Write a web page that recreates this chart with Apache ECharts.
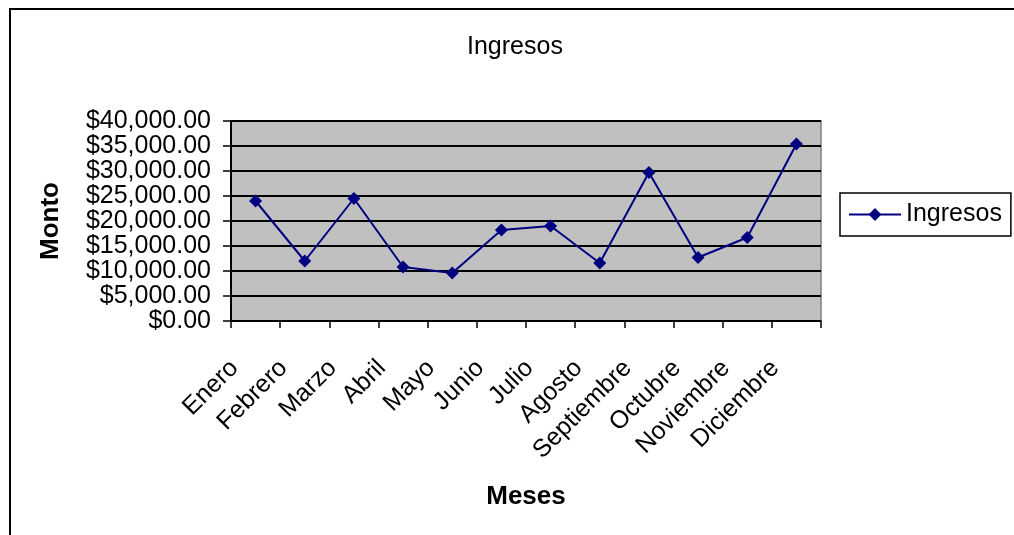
<!DOCTYPE html>
<html>
<head>
<meta charset="utf-8">
<script src="https://cdn.jsdelivr.net/npm/echarts@6/dist/echarts.min.js"></script>
<style>html,body{margin:0;padding:0;background:#fff;}#c{width:1014px;height:535px;}</style>
</head>
<body>
<div id="c"></div>
<script>
const months = ['Enero','Febrero','Marzo','Abril','Mayo','Junio','Julio','Agosto','Septiembre','Octubre','Noviembre','Diciembre'];
const ingresos = [24000, 12000, 24500, 10800, 9600, 18200, 19000, 11600, 29700, 12700, 16700, 35400];
const yMin = 0, yMax = 40000, yStep = 5000;

function money(v){
  const s = v.toFixed(2);
  const parts = s.split('.');
  return '$' + parts[0].replace(/\B(?=(\d{3})+(?!\d))/g, ',') + '.' + parts[1];
}
const FONT = 'Liberation Sans, Arial, sans-serif';
const chart = echarts.init(document.getElementById('c'));
chart.setOption({
  animation: false,
  backgroundColor: '#fff',
  title: {
    text: 'Ingresos', left: 462, top: 30,
    textStyle: { fontFamily: FONT, fontSize: 25, fontWeight: 'normal', color: '#000' }
  },
  graphic: [{
    type: 'rect', silent: true,
    shape: { x: 10, y: 9, width: 1020, height: 540 },
    style: { fill: 'none', stroke: '#000', lineWidth: 2 }
  }],
  legend: {
    data: ['Ingresos'], left: 840, top: 193,
    borderColor: '#000', borderWidth: 1.5, padding: [9, 9, 9, 8],
    itemWidth: 52, itemHeight: 16, itemGap: 4,
    textStyle: { fontFamily: FONT, fontSize: 25, color: '#000' }
  },
  grid: {
    left: 231, right: 193, top: 121, bottom: 214,
    show: true, backgroundColor: '#C0C0C0', borderColor: '#808080', borderWidth: 1.5
  },
  xAxis: {
    type: 'category', data: months, boundaryGap: true,
    name: 'Meses', nameLocation: 'middle', nameGap: 163,
    nameTextStyle: { fontFamily: FONT, fontSize: 26, fontWeight: 'bold', color: '#000' },
    axisLine: { show: true, lineStyle: { color: '#000', width: 1.5 } },
    axisTick: { show: true, alignWithLabel: false, length: 7, lineStyle: { color: '#000', width: 1.5 } },
    axisLabel: { interval: 0, rotate: 45, margin: 22, padding: [0, 30, 0, 0], fontFamily: FONT, fontSize: 25, color: '#000' },
    splitLine: { show: false }
  },
  yAxis: {
    type: 'value', min: yMin, max: yMax, interval: yStep,
    name: 'Monto', nameLocation: 'middle', nameGap: 167, nameRotate: 90,
    nameTextStyle: { fontFamily: FONT, fontSize: 26, fontWeight: 'bold', color: '#000' },
    axisLine: { show: true, lineStyle: { color: '#000', width: 2 } },
    axisTick: { show: true, length: 8, lineStyle: { color: '#000', width: 1.5 } },
    axisLabel: { margin: 20, fontFamily: FONT, fontSize: 25, color: '#000', formatter: money },
    splitLine: { show: true, lineStyle: { color: '#000', width: 2 } }
  },
  series: [{
    name: 'Ingresos', type: 'line', data: ingresos,
    symbol: 'diamond', symbolSize: 13,
    lineStyle: { color: '#000080', width: 2 },
    itemStyle: { color: '#000080' }
  }]
});
</script>
</body>
</html>
